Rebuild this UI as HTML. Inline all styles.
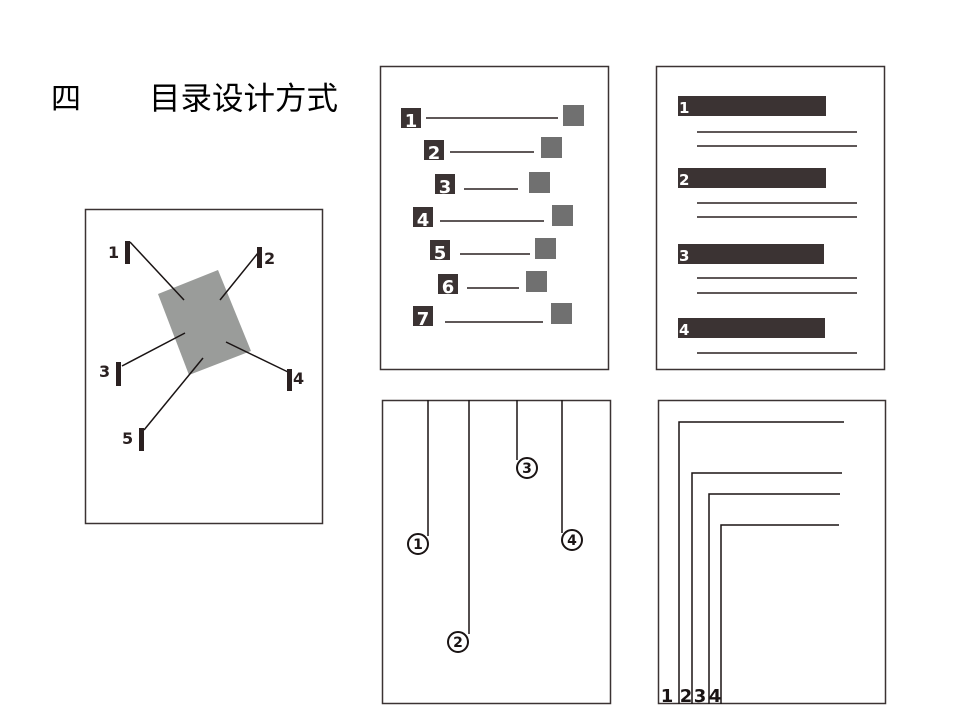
<!DOCTYPE html>
<html><head><meta charset="utf-8"><style>
html,body{margin:0;padding:0;background:#fff;}
svg{display:block;}
.b{font-family:"DejaVu Sans","Liberation Sans",sans-serif;font-weight:bold;}
.cjk{font-family:"Liberation Sans","Noto Sans CJK SC",sans-serif;font-weight:normal;}
</style></head><body>
<svg width="960" height="720" viewBox="0 0 960 720" xmlns="http://www.w3.org/2000/svg">
<text class="cjk" x="51" y="109" font-size="30" fill="#000">四</text>
<text class="cjk" x="149" y="109" font-size="31.5" fill="#000">目录设计方式</text>

<!-- Panel 1 -->
<rect x="85.5" y="209.5" width="237" height="314" fill="none" stroke="#3b3333" stroke-width="1.5"/>
<polygon points="158,294 218,270 251,351 189,375" fill="#9a9c9a"/>
<g stroke="#1a1414" stroke-width="1.5">
<line x1="130" y1="242" x2="184" y2="300"/>
<line x1="258" y1="253" x2="220" y2="300"/>
<line x1="122" y1="366" x2="185" y2="333"/>
<line x1="288" y1="372" x2="226" y2="342"/>
<line x1="144" y1="430" x2="203" y2="358"/>
</g>
<g fill="#2a2020">
<rect x="125" y="241" width="5" height="23"/>
<rect x="257" y="247" width="5" height="21"/>
<rect x="116" y="362" width="5" height="24"/>
<rect x="287" y="369" width="5" height="22"/>
<rect x="139" y="428" width="5" height="23"/>
</g>
<g class="b" font-size="16" font-weight="bold" fill="#2a2020">
<text x="108" y="258">1</text>
<text x="264" y="264">2</text>
<text x="99" y="377">3</text>
<text x="293" y="384">4</text>
<text x="122" y="444">5</text>
</g>

<!-- Panel 2 -->
<rect x="380.5" y="66.5" width="228" height="303" fill="none" stroke="#3b3333" stroke-width="1.5"/>
<g fill="#3b3333">
<rect x="401" y="108" width="20" height="20"/>
<rect x="424" y="140" width="20" height="20"/>
<rect x="435" y="174" width="20" height="20"/>
<rect x="413" y="207" width="20" height="20"/>
<rect x="430" y="240" width="20" height="20"/>
<rect x="438" y="274" width="20" height="20"/>
<rect x="413" y="306" width="20" height="20"/>
</g>
<g class="b" font-size="18" font-weight="bold" fill="#fff" text-anchor="middle">
<text x="411" y="127">1</text>
<text x="434" y="159">2</text>
<text x="445" y="193">3</text>
<text x="423" y="226">4</text>
<text x="440" y="259">5</text>
<text x="448" y="293">6</text>
<text x="423" y="325">7</text>
</g>
<g stroke="#2a2020" stroke-width="1.5">
<line x1="426" y1="118" x2="558" y2="118"/>
<line x1="450" y1="152" x2="534" y2="152"/>
<line x1="464" y1="189" x2="518" y2="189"/>
<line x1="440" y1="221" x2="544" y2="221"/>
<line x1="460" y1="254" x2="530" y2="254"/>
<line x1="467" y1="288" x2="519" y2="288"/>
<line x1="445" y1="322" x2="543" y2="322"/>
</g>
<g fill="#707070">
<rect x="563" y="105" width="21" height="21"/>
<rect x="541" y="137" width="21" height="21"/>
<rect x="529" y="172" width="21" height="21"/>
<rect x="552" y="205" width="21" height="21"/>
<rect x="535" y="238" width="21" height="21"/>
<rect x="526" y="271" width="21" height="21"/>
<rect x="551" y="303" width="21" height="21"/>
</g>

<!-- Panel 3 -->
<rect x="656.5" y="66.5" width="228" height="303" fill="none" stroke="#3b3333" stroke-width="1.5"/>
<g fill="#3b3333">
<rect x="678" y="96" width="148" height="20"/>
<rect x="678" y="168" width="148" height="20"/>
<rect x="678" y="244" width="146" height="20"/>
<rect x="678" y="318" width="147" height="20"/>
</g>
<g class="b" font-size="15" font-weight="bold" fill="#fff">
<text x="679" y="113">1</text>
<text x="679" y="185">2</text>
<text x="679" y="261">3</text>
<text x="679" y="335">4</text>
</g>
<g stroke="#2a2020" stroke-width="1.5">
<line x1="697" y1="132" x2="857" y2="132"/>
<line x1="697" y1="146" x2="857" y2="146"/>
<line x1="697" y1="203" x2="857" y2="203"/>
<line x1="697" y1="217" x2="857" y2="217"/>
<line x1="697" y1="278" x2="857" y2="278"/>
<line x1="697" y1="293" x2="857" y2="293"/>
<line x1="697" y1="353" x2="857" y2="353"/>
</g>

<!-- Panel 4 -->
<rect x="382.5" y="400.5" width="228" height="303" fill="none" stroke="#3b3333" stroke-width="1.5"/>
<g stroke="#1a1414" stroke-width="1.5" fill="none">
<line x1="428" y1="400" x2="428" y2="536"/>
<line x1="469" y1="400" x2="469" y2="634"/>
<line x1="517" y1="400" x2="517" y2="460"/>
<line x1="562" y1="400" x2="562" y2="533"/>
</g>
<g stroke="#1a1414" stroke-width="2" fill="none">
<circle cx="418" cy="544" r="10"/>
<circle cx="458" cy="642" r="10"/>
<circle cx="527" cy="468" r="10"/>
<circle cx="572" cy="540" r="10"/>
</g>
<g class="b" font-size="14" font-weight="bold" fill="#1a1414" text-anchor="middle">
<text x="418" y="549">1</text>
<text x="458" y="647">2</text>
<text x="527" y="473">3</text>
<text x="572" y="545">4</text>
</g>

<!-- Panel 5 -->
<rect x="658.5" y="400.5" width="227" height="303" fill="none" stroke="#3b3333" stroke-width="1.5"/>
<g stroke="#1a1414" stroke-width="1.5" fill="none">
<polyline points="679,704 679,422 844,422"/>
<polyline points="692,704 692,473 842,473"/>
<polyline points="709,704 709,494 840,494"/>
<polyline points="721,704 721,525 839,525"/>
</g>
<g class="b" font-size="18" font-weight="bold" fill="#1a1414" text-anchor="middle">
<text x="667" y="702">1</text>
<text x="686" y="702">2</text>
<text x="700" y="702">3</text>
<text x="715" y="702">4</text>
</g>
</svg>
</body></html>
